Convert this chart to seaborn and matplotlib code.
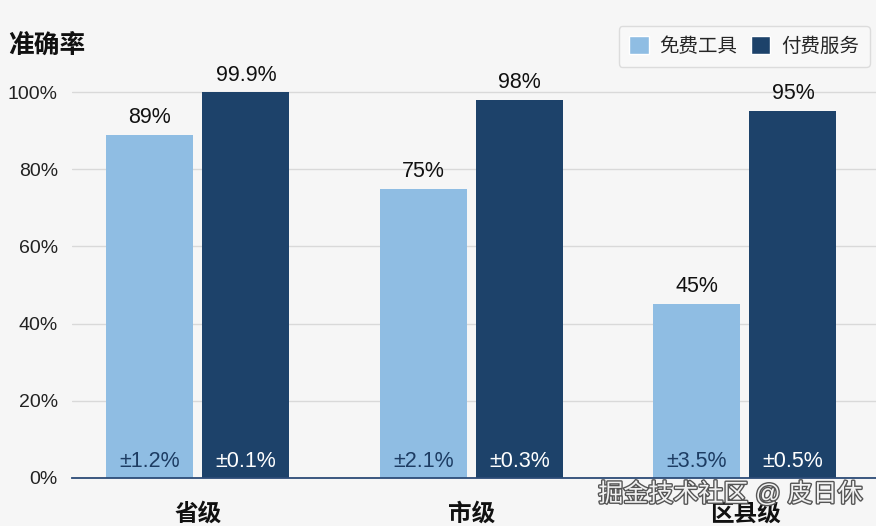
import matplotlib
matplotlib.use("Agg")
import matplotlib.pyplot as plt
import matplotlib.patheffects as pe
from matplotlib.patches import Patch
import seaborn as sns
import pandas as pd

# Data
levels = ["省级", "市级", "区县级"]
series = ["免费工具", "付费服务"]
free_vals = [89, 75, 45]
paid_vals = [99.9, 98, 95]
free_labels = ["89%", "75%", "45%"]
paid_labels = ["99.9%", "98%", "95%"]
free_err = ["±1.2%", "±2.1%", "±3.5%"]
paid_err = ["±0.1%", "±0.3%", "±0.5%"]
y_ticks = [0, 20, 40, 60, 80, 100]

colors = ["#8fbde3", "#1d426a"]
bg = "#f6f6f6"

df = pd.DataFrame({
    "level": levels * 2,
    "series": [series[0]] * 3 + [series[1]] * 3,
    "value": free_vals + paid_vals,
})

sns.set_theme(style="white")
plt.rcParams["font.family"] = ["Liberation Sans", "Noto Sans CJK SC", "DejaVu Sans"]

fig = plt.figure(figsize=(8.76, 5.26), dpi=100, facecolor=bg)
ax = fig.add_axes([0.082, 0.0913, 0.918, 0.807])
ax.set_facecolor(bg)

sns.barplot(data=df, x="level", y="value", hue="series", palette=colors,
            width=0.702, gap=0.094, saturation=1, linewidth=0, legend=False, ax=ax)

ax.set_ylim(0, 110)
ax.set_xlim(-0.461, 2.479)
ax.set_yticks(y_ticks)
ax.set_yticklabels([f"{t}%" for t in y_ticks], fontsize=14, color="#222222")
ax.tick_params(axis="y", length=0, pad=10)
ax.tick_params(axis="x", length=0, pad=18)
ax.set_xticks(range(len(levels)))
ax.set_xticklabels(levels, fontsize=17, fontweight="bold", color="#111111")
for t in ax.get_xticklabels():
    t.set_zorder(5)
ax.set_xlabel("")
ax.set_ylabel("")
ax.grid(axis="y", color="#d9d9d9", linewidth=1)
ax.set_axisbelow(True)
for s in ["left", "right", "top"]:
    ax.spines[s].set_visible(False)
ax.spines["bottom"].set_color("#2c4b77")
ax.spines["bottom"].set_linewidth(1.3)

# value labels on top, error labels inside bottom
for i, cont in enumerate(ax.containers):
    tops = free_labels if i == 0 else paid_labels
    errs = free_err if i == 0 else paid_err
    ax.bar_label(cont, labels=tops, padding=5, fontsize=15.5, color="#111111")
    for bar, e in zip(cont, errs):
        ax.text(bar.get_x() + bar.get_width() / 2, 4.3, e, ha="center", va="center",
                fontsize=15.5, color="#1d3c63" if i == 0 else "white")

fig.text(0.009, 0.913, "准确率", fontsize=18.5, fontweight="bold", color="#111111",
         ha="left", va="center")

handles = [Patch(facecolor=c, label=s) for c, s in zip(colors, series)]
leg = fig.legend(handles=handles, loc="upper right", bbox_to_anchor=(0.993, 0.951),
                 ncol=2, fontsize=14, frameon=True, fancybox=True, handlelength=1.0,
                 handleheight=1.0, handletextpad=0.55, columnspacing=0.7,
                 borderpad=0.55, borderaxespad=0)
leg.get_frame().set_facecolor("#f9f9f9")
leg.get_frame().set_edgecolor("#d6d6d6")

# watermark, drawn under the tick labels
fig.text(0.683, 0.061, "掘金技术社区 @ 皮日休", fontsize=18, color="#f2f2f2",
         ha="left", va="center", zorder=0,
         path_effects=[pe.withStroke(linewidth=2, foreground="#555555")])

fig.savefig("out.png", dpi=100, facecolor=bg)
